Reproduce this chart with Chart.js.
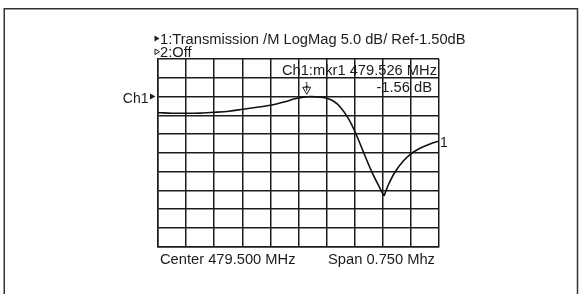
<!DOCTYPE html>
<html><head><meta charset="utf-8">
<script src="https://cdn.jsdelivr.net/npm/chart.js@4/dist/chart.umd.min.js"></script>
<style>html,body{margin:0;padding:0;background:#fff;}#wrap{width:580px;height:294px;position:relative;}</style>
</head><body><div id="wrap"><canvas id="c" width="580" height="294"></canvas></div>
<script>
// ---- data ----
const freqMHz = [479.125, 479.1285, 479.1624, 479.2024, 479.2371, 479.2771, 479.3145, 479.3519, 479.3892, 479.4285, 479.4640, 479.4907, 479.5040, 479.526, 479.5467, 479.5753, 479.5948, 479.6108, 479.6329, 479.6508, 479.6730, 479.6954, 479.7175, 479.7282, 479.7397, 479.7576, 479.7797, 479.7976, 479.8243, 479.8510, 479.875];
const transmissionDb = [-5.80, -5.82, -5.95, -5.98, -5.93, -5.71, -5.42, -4.91, -4.38, -3.77, -2.91, -2.11, -1.85, -1.56, -1.61, -1.98, -2.83, -4.22, -7.31, -10.89, -16.22, -21.55, -25.98, -28.03, -25.10, -21.63, -18.70, -16.97, -15.31, -14.17, -13.37];
const gridFreqMHz = [479.125, 479.2, 479.275, 479.35, 479.425, 479.5, 479.575, 479.65, 479.725, 479.8, 479.875];
const gridDb = [8.5, 3.5, -1.5, -6.5, -11.5, -16.5, -21.5, -26.5, -31.5, -36.5, -41.5];
const headerLine1 = '1:Transmission /M LogMag 5.0 dB/ Ref-1.50dB';
const headerLine2 = '2:Off';
const markerLine1 = 'Ch1:mkr1 479.526 MHz';
const markerLine2 = '-1.56 dB';
const refLabel = 'Ch1';
const centerLabel = 'Center 479.500 MHz';
const spanLabel = 'Span 0.750 Mhz';
const markerFreq = 479.526;
const markerDb = -1.56;
const refDb = -1.5;

// split trace at the notch so the V stays sharp
let minIdx = 0;
transmissionDb.forEach((v, i) => { if (v < transmissionDb[minIdx]) minIdx = i; });
const pts = freqMHz.map((f, i) => ({ x: f, y: transmissionDb[i] }));
const partA = pts.slice(0, minIdx + 1);
const partB = pts.slice(minIdx);

const FONT = '"Liberation Sans", Arial, sans-serif';
const INK = '#1c1c1c';

const decor = {
  id: 'decor',
  beforeDraw(chart) {
    const ctx = chart.ctx;
    ctx.save();
    ctx.fillStyle = '#fff';
    ctx.fillRect(0, 0, chart.width, chart.height);
    ctx.strokeStyle = '#333';
    ctx.lineWidth = 1.5;
    ctx.strokeRect(4.25, 8.75, 573.25, 400);
    ctx.restore();
  },
  afterDraw(chart) {
    const ctx = chart.ctx;
    const ca = chart.chartArea;
    const xs = chart.scales.x, ys = chart.scales.y;
    ctx.save();
    ctx.fillStyle = INK;
    ctx.strokeStyle = INK;
    ctx.textBaseline = 'alphabetic';
    ctx.font = '14.7px ' + FONT;
    ctx.textAlign = 'left';
    // header
    ctx.beginPath(); ctx.moveTo(154.5, 35.5); ctx.lineTo(154.5, 41.5); ctx.lineTo(159.5, 38.5); ctx.closePath(); ctx.fill();
    ctx.fillText(headerLine1, ca.left + 2, 43.5);
    ctx.lineWidth = 1;
    ctx.beginPath(); ctx.moveTo(155, 49); ctx.lineTo(155, 54.5); ctx.lineTo(159.5, 51.75); ctx.closePath(); ctx.stroke();
    ctx.fillText(headerLine2, ca.left + 2, 56.5);
    // marker readout
    ctx.textAlign = 'right';
    ctx.fillText(markerLine1, ca.right - 2, 75);
    ctx.fillText(markerLine2, ca.right - 7, 92);
    // reference label
    const ry = ys.getPixelForValue(refDb);
    ctx.font = '14px ' + FONT;
    ctx.fillText(refLabel, 148.5, ry + 6);
    ctx.beginPath(); ctx.moveTo(150, ry - 3); ctx.lineTo(150, ry + 3); ctx.lineTo(155.5, ry); ctx.closePath(); ctx.fill();
    // bottom labels
    ctx.font = '14.7px ' + FONT;
    ctx.textAlign = 'left';
    ctx.fillText(centerLabel, ca.left + 2, ca.bottom + 17);
    ctx.fillText(spanLabel, 328, ca.bottom + 17);
    // trace end label
    const lx = xs.getPixelForValue(freqMHz[freqMHz.length - 1]);
    const ly = ys.getPixelForValue(transmissionDb[transmissionDb.length - 1]);
    ctx.font = '14px ' + FONT;
    ctx.fillText('1', lx + 1, ly + 5.5);
    // marker symbol
    const mx = xs.getPixelForValue(markerFreq) - 1.5;
    const my = ys.getPixelForValue(markerDb);
    ctx.font = '8px ' + FONT;
    ctx.textAlign = 'center';
    ctx.fillText('1', mx, my - 10);
    ctx.lineWidth = 1;
    ctx.beginPath(); ctx.moveTo(mx - 4, my - 9.5); ctx.lineTo(mx + 4, my - 9.5); ctx.lineTo(mx, my - 2.5); ctx.closePath(); ctx.stroke();
    ctx.beginPath(); ctx.moveTo(mx, my - 12); ctx.lineTo(mx, my - 6); ctx.stroke();
    ctx.restore();
  }
};

const setTicks = (vals) => (scale) => { scale.ticks = vals.map(v => ({ value: v })); };

new Chart(document.getElementById('c'), {
  type: 'line',
  data: {
    datasets: [
      { data: partA, borderColor: '#111', borderWidth: 1.6, pointRadius: 0, tension: 0.35, fill: false },
      { data: partB, borderColor: '#111', borderWidth: 1.6, pointRadius: 0, tension: 0.35, fill: false }
    ]
  },
  options: {
    responsive: false,
    animation: false,
    devicePixelRatio: 1,
    layout: { padding: { left: 158, right: 141, top: 59, bottom: 47.5 } },
    plugins: { legend: { display: false }, tooltip: { enabled: false }, title: { display: false } },
    scales: {
      x: {
        type: 'linear', min: 479.125, max: 479.875,
        afterBuildTicks: setTicks(gridFreqMHz),
        ticks: { display: false },
        grid: { color: INK, lineWidth: 1.5, drawTicks: false },
        border: { display: true, color: INK, width: 1.5 }
      },
      y: {
        type: 'linear', min: -41.5, max: 8.5,
        afterBuildTicks: setTicks(gridDb),
        ticks: { display: false },
        grid: { color: INK, lineWidth: 1.5, drawTicks: false },
        border: { display: true, color: INK, width: 1.5 }
      }
    }
  },
  plugins: [decor]
});
</script>
</body></html>
